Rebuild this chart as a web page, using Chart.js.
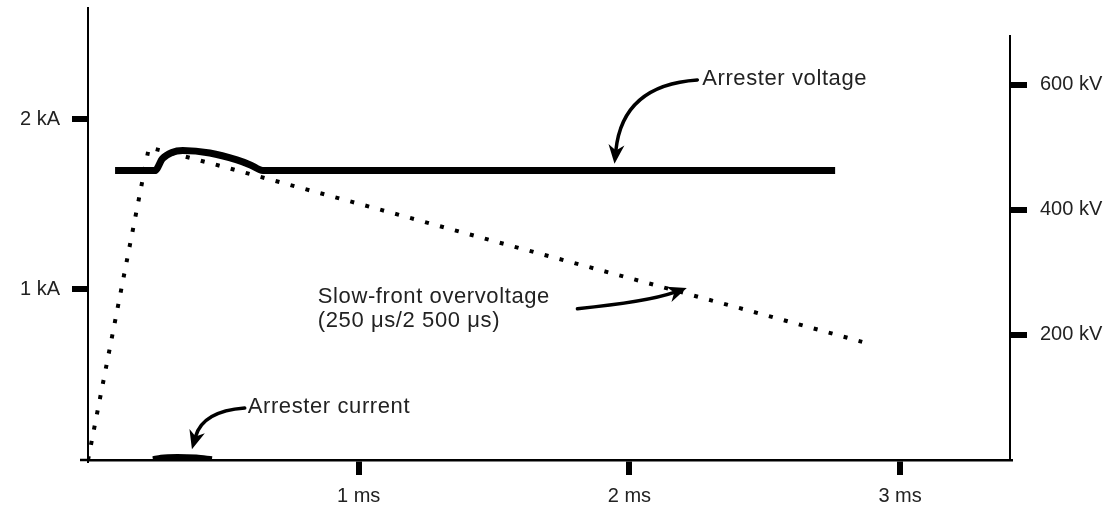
<!DOCTYPE html>
<html>
<head>
<meta charset="utf-8">
<title>Arrester voltage and current, slow-front overvoltage</title>
<script src="https://cdn.jsdelivr.net/npm/chart.js@4.4.1/dist/chart.umd.min.js"></script>
<style>
    html, body { margin: 0; padding: 0; background: #fff; }
    #wrap { width: 1118px; height: 513px; }
</style>
</head>
<body>
<div id="wrap"><canvas id="surgeChart"></canvas></div>
<script>
// time in ms, voltage in kV (right axis), current in kA (left axis)
const surgeTime = [0, 0.225, 0.29, 0.45, 0.67, 1.0, 1.5, 2.0, 2.5, 2.86];
const surgeVolt = [0, 500, 493, 475, 449, 410, 350, 291, 232, 189];

const arrVoltTime = [0.1, 0.247, 0.275, 0.31, 0.35, 0.45, 0.55, 0.6, 0.646, 2.76];
const arrVolt = [463, 463, 482, 492, 495, 491, 480, 472, 463, 463];

const arrCurrTime = [0.24, 0.27, 0.33, 0.4, 0.458];
const arrCurr = [0.004, 0.014, 0.018, 0.014, 0.004];

const timeTicks = [1, 2, 3];
const currTicks = [1, 2];
const voltTicks = [200, 400, 600];
const voltAxisTop = 680;

// annotations: text anchored at (time, kV), arrows as start / bend / tip
const noteText = ['Arrester voltage', 'Slow-front overvoltage', '(250 \u03bcs/2 500 \u03bcs)', 'Arrester current'];
const noteTime = [2.269, 0.849, 0.849, 0.590];
const noteVolt = [610, 261, 222, 85];

const arrowStart = [[2.251, 608], [1.808, 242], [0.579, 83]];
const arrowBend = [[1.975, 600], [2.066, 253], [0.424, 78]];
const arrowTip = [[1.945, 474], [2.212, 275], [0.384, 17]];

const TEXT = '#222';
const FAMILY = '"Liberation Sans", Arial, sans-serif';
const TICK_FONT = { family: FAMILY, size: 20 };

function pairs(xs, ys) {
    return xs.map((x, i) => ({ x: x, y: ys[i] }));
}

function fixTicks(values) {
    return (scale) => { scale.ticks = values.map(v => ({ value: v })); };
}

function drawArrow(ctx, p0, c, p1) {
    const dx = p1.x - c.x, dy = p1.y - c.y;
    const len = Math.hypot(dx, dy);
    const ux = dx / len, uy = dy / len;
    const head = 19, half = 8;
    const bx = p1.x - ux * head * 0.7, by = p1.y - uy * head * 0.7;

    ctx.beginPath();
    ctx.moveTo(p0.x, p0.y);
    ctx.quadraticCurveTo(c.x, c.y, bx, by);
    ctx.stroke();

    ctx.beginPath();
    ctx.moveTo(p1.x, p1.y);
    ctx.lineTo(p1.x - ux * head - uy * half, p1.y - uy * head + ux * half);
    ctx.lineTo(bx, by);
    ctx.lineTo(p1.x - ux * head + uy * half, p1.y - uy * head - ux * half);
    ctx.closePath();
    ctx.fill();
}

const overlay = {
    id: 'overlay',
    afterDatasetsDraw(chart) {
        const { ctx, chartArea } = chart;
        const x = chart.scales.x, yV = chart.scales.yV;
        const px = (t, v) => ({ x: x.getPixelForValue(t), y: yV.getPixelForValue(v) });

        ctx.save();
        ctx.strokeStyle = '#000';
        ctx.fillStyle = '#000';

        // right axis stops below the top of the plot
        ctx.lineWidth = 2;
        ctx.beginPath();
        ctx.moveTo(chartArea.right, yV.getPixelForValue(voltAxisTop));
        ctx.lineTo(chartArea.right, yV.getPixelForValue(0) + 1);
        ctx.stroke();

        // time axis runs a little past the current axis
        ctx.lineWidth = 2.5;
        ctx.beginPath();
        ctx.moveTo(chartArea.left - 8, chartArea.bottom);
        ctx.lineTo(chartArea.left, chartArea.bottom);
        ctx.stroke();

        // arrows
        ctx.lineWidth = 3.5;
        ctx.lineCap = 'round';
        arrowStart.forEach((s, i) => {
            drawArrow(ctx, px(s[0], s[1]), px(arrowBend[i][0], arrowBend[i][1]), px(arrowTip[i][0], arrowTip[i][1]));
        });

        // labels
        ctx.fillStyle = TEXT;
        ctx.font = '22px ' + FAMILY;
        ctx.textBaseline = 'middle';
        ctx.textAlign = 'left';
        if ('letterSpacing' in ctx) ctx.letterSpacing = '0.6px';
        noteText.forEach((t, i) => {
            const p = px(noteTime[i], noteVolt[i]);
            ctx.fillText(t, p.x, p.y);
        });
        ctx.restore();
    }
};

new Chart(document.getElementById('surgeChart'), {
    type: 'line',
    data: {
        datasets: [
            {
                label: 'Slow-front overvoltage',
                data: pairs(surgeTime, surgeVolt),
                yAxisID: 'yV',
                borderColor: '#000',
                borderWidth: 4,
                borderDash: [4, 11.5],
                borderCapStyle: 'butt',
                tension: 0
            },
            {
                label: 'Arrester voltage',
                data: pairs(arrVoltTime, arrVolt),
                yAxisID: 'yV',
                borderColor: '#000',
                borderWidth: 7,
                cubicInterpolationMode: 'monotone'
            },
            {
                label: 'Arrester current',
                data: pairs(arrCurrTime, arrCurr),
                yAxisID: 'yA',
                borderColor: '#000',
                borderWidth: 6,
                cubicInterpolationMode: 'monotone'
            }
        ]
    },
    options: {
        responsive: true, maintainAspectRatio: false, animation: false,
        layout: { padding: { top: 8, left: 0, right: 0, bottom: 0 } },
        elements: { point: { radius: 0, hoverRadius: 0 } },
        plugins: { legend: { display: false }, tooltip: { enabled: false } },
        scales: {
            x: {
                type: 'linear', position: 'bottom', min: 0, max: 3.406,
                afterBuildTicks: fixTicks(timeTicks),
                afterFit: (s) => { s.height = 53; s.paddingLeft = 0; s.paddingRight = 0; },
                border: { display: true, color: '#000', width: 2.5 },
                grid: { drawOnChartArea: false, drawTicks: true, tickLength: 15, tickWidth: 6, lineWidth: 6, tickColor: '#000' },
                ticks: { color: TEXT, font: TICK_FONT, padding: 9, maxRotation: 0, callback: (v) => v + ' ms' }
            },
            yA: {
                type: 'linear', position: 'left', min: 0, max: 2.651,
                afterBuildTicks: fixTicks(currTicks),
                afterFit: (s) => { s.width = 88; s.paddingTop = 0; s.paddingBottom = 0; },
                border: { display: true, color: '#000', width: 2 },
                grid: { drawOnChartArea: false, drawTicks: true, tickLength: 16, tickWidth: 6, lineWidth: 6, tickColor: '#000' },
                ticks: { color: TEXT, font: TICK_FONT, padding: 12, callback: (v) => v + ' kA' }
            },
            yV: {
                type: 'linear', position: 'right', min: 0, max: 723,
                afterBuildTicks: fixTicks(voltTicks),
                afterFit: (s) => { s.width = 108; s.paddingTop = 0; s.paddingBottom = 0; },
                border: { display: false },
                grid: { drawOnChartArea: false, drawTicks: true, tickLength: 17, tickWidth: 6, lineWidth: 6, tickColor: '#000' },
                ticks: { color: TEXT, font: TICK_FONT, padding: 13, callback: (v) => v + ' kV' }
            }
        }
    },
    plugins: [overlay]
});
</script>
</body>
</html>
